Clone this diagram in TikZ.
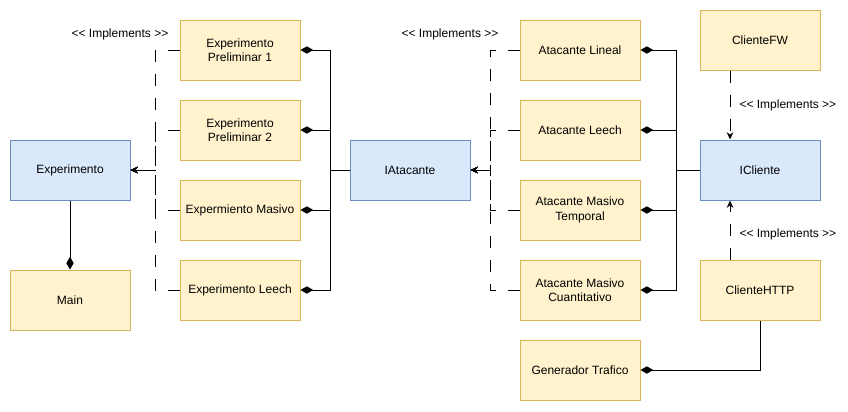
\documentclass[tikz,border=0pt]{standalone}
\usepackage{fontspec}
\setmainfont{Liberation Sans}
\usepackage{tikz}
\usetikzlibrary{arrows.meta}

\begin{document}
\begin{tikzpicture}[x=0.75pt,y=0.75pt,yscale=-1,xscale=1,line width=0.75pt,
  clase/.style={draw={rgb, 255:red, 214; green, 182; blue, 86 },fill={rgb, 255:red, 255; green, 242; blue, 204 },minimum width=90pt,minimum height=45pt,align=center,inner sep=0.75pt,font=\fontsize{9}{10.8}\selectfont},
  interfaz/.style={clase,draw={rgb, 255:red, 108; green, 142; blue, 191 },fill={rgb, 255:red, 218; green, 232; blue, 252 }},
  realiza/.style={dash pattern={on 9pt off 9pt},-{Stealth[length=5.5pt,width=5pt]}},
  compone/.style={-{Diamond[length=9.5pt,width=5.5pt]}},
  etiqueta/.style={inner sep=0.75pt,font=\fontsize{9}{10.8}\selectfont}]
                  \useasboundingbox (0,0) rectangle (848,411);

                  %Shape: Rectangle [id:experimento]
                  \node [interfaz] (experimento) at (70,170) {Experimento};
                  %Shape: Rectangle [id:main]
                  \node [clase] (main) at (70,300) {Main};
                  %Shape: Rectangle [id:expP1]
                  \node [clase] (expP1) at (240,50) {Experimento\\Preliminar 1};
                  %Shape: Rectangle [id:expP2]
                  \node [clase] (expP2) at (240,130) {Experimento\\Preliminar 2};
                  %Shape: Rectangle [id:expMasivo]
                  \node [clase] (expMasivo) at (240,210) {Expermiento Masivo};
                  %Shape: Rectangle [id:expLeech]
                  \node [clase] (expLeech) at (240,290) {Experimento Leech};
                  %Shape: Rectangle [id:iatacante]
                  \node [interfaz] (iatacante) at (410,170) {IAtacante};
                  %Shape: Rectangle [id:atLineal]
                  \node [clase] (atLineal) at (580,50) {Atacante Lineal};
                  %Shape: Rectangle [id:atLeech]
                  \node [clase] (atLeech) at (580,130) {Atacante Leech};
                  %Shape: Rectangle [id:atTemporal]
                  \node [clase] (atTemporal) at (580,210) {Atacante Masivo\\Temporal};
                  %Shape: Rectangle [id:atCuantitativo]
                  \node [clase] (atCuantitativo) at (580,290) {Atacante Masivo\\Cuantitativo};
                  %Shape: Rectangle [id:generador]
                  \node [clase] (generador) at (580,370) {Generador Trafico};
                  %Shape: Rectangle [id:clienteFW]
                  \node [clase] (clienteFW) at (760,40) {ClienteFW};
                  %Shape: Rectangle [id:icliente]
                  \node [interfaz] (icliente) at (760,170) {ICliente};
                  %Shape: Rectangle [id:clienteHTTP]
                  \node [clase] (clienteHTTP) at (760,290) {ClienteHTTP};

                  %bends of the grouped connectors
                  \coordinate (busExp) at (155,170);
                  \coordinate (busIAt) at (330,170);
                  \coordinate (busAt) at (490,170);
                  \coordinate (busCli) at (676,170);

                  %Dashed Lines: experiments implement Experimento
                  \draw [realiza] (expP1.west) -| (busExp) -- (experimento.east);
                  \draw [realiza] (expP2.west) -| (busExp) -- (experimento.east);
                  \draw [realiza] (expMasivo.west) -| (busExp) -- (experimento.east);
                  \draw [realiza] (expLeech.west) -| (busExp) -- (experimento.east);
                  %Straight Lines: IAtacante into experiments
                  \draw [compone] (iatacante.west) -- (busIAt) |- (expP1.east);
                  \draw [compone] (iatacante.west) -- (busIAt) |- (expP2.east);
                  \draw [compone] (iatacante.west) -- (busIAt) |- (expMasivo.east);
                  \draw [compone] (iatacante.west) -- (busIAt) |- (expLeech.east);
                  %Straight Lines: Experimento into Main
                  \draw [compone] (experimento.south) -- (main.north);

                  %Dashed Lines: attackers implement IAtacante
                  \draw [realiza] (atLineal.west) -| (busAt) -- (iatacante.east);
                  \draw [realiza] (atLeech.west) -| (busAt) -- (iatacante.east);
                  \draw [realiza] (atTemporal.west) -| (busAt) -- (iatacante.east);
                  \draw [realiza] (atCuantitativo.west) -| (busAt) -- (iatacante.east);
                  %Straight Lines: ICliente into attackers
                  \draw [compone] (icliente.west) -- (busCli) |- (atLineal.east);
                  \draw [compone] (icliente.west) -- (busCli) |- (atLeech.east);
                  \draw [compone] (icliente.west) -- (busCli) |- (atTemporal.east);
                  \draw [compone] (icliente.west) -- (busCli) |- (atCuantitativo.east);

                  %Dashed Lines: clients implement ICliente
                  \draw [realiza] ([xshift=-22.5pt]clienteFW.south) -- ([xshift=-22.5pt]icliente.north) node [etiqueta,midway,right=6pt] {<{}< Implements >{}>};
                  \draw [realiza] ([xshift=-22.5pt]clienteHTTP.north) -- ([xshift=-22.5pt]icliente.south) node [etiqueta,pos=0.43,right=6pt] {<{}< Implements >{}>};
                  %Straight Lines: ClienteHTTP into Generador
                  \draw [compone] (clienteHTTP.south) |- (generador.east);

                  % Text Node
                  \node [etiqueta] (lblImpExp) at (120,34) {<{}< Implements >{}>};
                  % Text Node
                  \node [etiqueta] (lblImpAt) at (450,34) {<{}< Implements >{}>};

\end{tikzpicture}
\end{document}
